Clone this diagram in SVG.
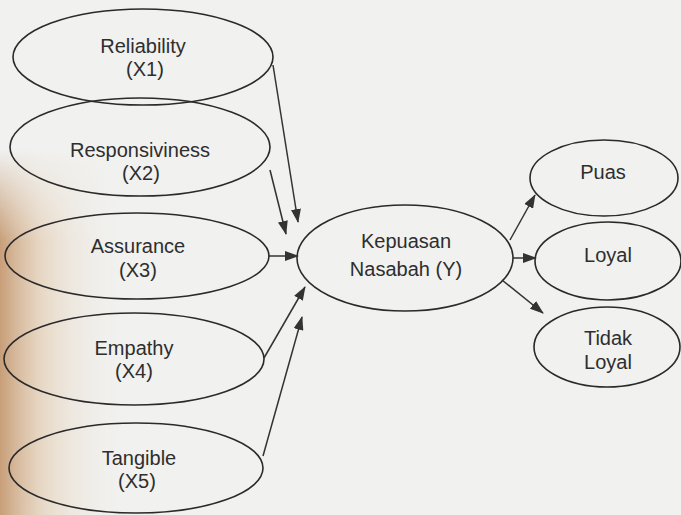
<svg xmlns="http://www.w3.org/2000/svg" width="681" height="515" viewBox="0 0 681 515">
<defs>
<style>
.n{fill:none;stroke:#2a2a2a;stroke-width:1.6}
.t{font-family:"Liberation Sans",Arial,sans-serif;font-size:20px;fill:#2e2e2e;text-anchor:middle}
.c{fill:none;stroke:#333;stroke-width:1.5;marker-end:url(#ah)}
</style>
<marker id="ah" viewBox="0 0 14 10" refX="13" refY="5" markerWidth="14" markerHeight="10" markerUnits="userSpaceOnUse" orient="auto">
<path d="M0,0 L14,5 L0,10 Z" fill="#333"/>
</marker>
<linearGradient id="stain" x1="0" y1="0" x2="1" y2="0">
<stop offset="0" stop-color="#b57a45" stop-opacity="0.7"/>
<stop offset="0.35" stop-color="#dcbb94" stop-opacity="0.45"/>
<stop offset="1" stop-color="#f3f1ec" stop-opacity="0"/>
</linearGradient>
<linearGradient id="fadev" x1="0" y1="0" x2="0" y2="1">
<stop offset="0" stop-color="#fff" stop-opacity="0"/>
<stop offset="0.25" stop-color="#fff" stop-opacity="1"/>
<stop offset="1" stop-color="#fff" stop-opacity="1"/>
</linearGradient>
<mask id="m"><rect x="0" y="150" width="120" height="365" fill="url(#fadev)"/></mask>
</defs>
<rect width="681" height="515" fill="#f1f1ef"/>
<rect x="0" y="150" width="120" height="365" fill="url(#stain)" mask="url(#m)"/>
<g id="reliability"><ellipse class="n" cx="143" cy="57" rx="130" ry="48"/><text class="t" x="143" y="53">Reliability</text><text class="t" x="145" y="76">(X1)</text></g>
<g id="responsiveness"><ellipse class="n" cx="140" cy="147" rx="130" ry="49"/><text class="t" x="140" y="157">Responsiviness</text><text class="t" x="141" y="180">(X2)</text></g>
<g id="assurance"><ellipse class="n" cx="137" cy="256" rx="132" ry="43"/><text class="t" x="138" y="253">Assurance</text><text class="t" x="138" y="277">(X3)</text></g>
<g id="empathy"><ellipse class="n" cx="134" cy="359" rx="130" ry="46"/><text class="t" x="134" y="355">Empathy</text><text class="t" x="134" y="378">(X4)</text></g>
<g id="tangible"><ellipse class="n" cx="136" cy="468" rx="127" ry="45"/><text class="t" x="139" y="465">Tangible</text><text class="t" x="137" y="488">(X5)</text></g>
<g id="kepuasan"><ellipse class="n" cx="405" cy="258" rx="108" ry="53"/><text class="t" x="406" y="248">Kepuasan</text><text class="t" x="406" y="276">Nasabah (Y)</text></g>
<g id="puas"><ellipse class="n" cx="604" cy="178" rx="74" ry="38"/><text class="t" x="603" y="179">Puas</text></g>
<g id="loyal"><ellipse class="n" cx="608" cy="261" rx="73" ry="39"/><text class="t" x="608" y="262">Loyal</text></g>
<g id="tidak-loyal"><ellipse class="n" cx="607" cy="347" rx="73" ry="40"/><text class="t" x="608" y="345">Tidak</text><text class="t" x="608" y="369">Loyal</text></g>
<g id="connectors">
<path class="c" d="M273,65 L298,222"/>
<path class="c" d="M270,170 L286,234"/>
<path class="c" d="M268,256 L298,256"/>
<path class="c" d="M264,358 L305,287"/>
<path class="c" d="M263,456 L302,317"/>
<path class="c" d="M510,240 L535,195"/>
<path class="c" d="M513,258 L536,258"/>
<path class="c" d="M502,280 L543,313"/>
</g>
</svg>
